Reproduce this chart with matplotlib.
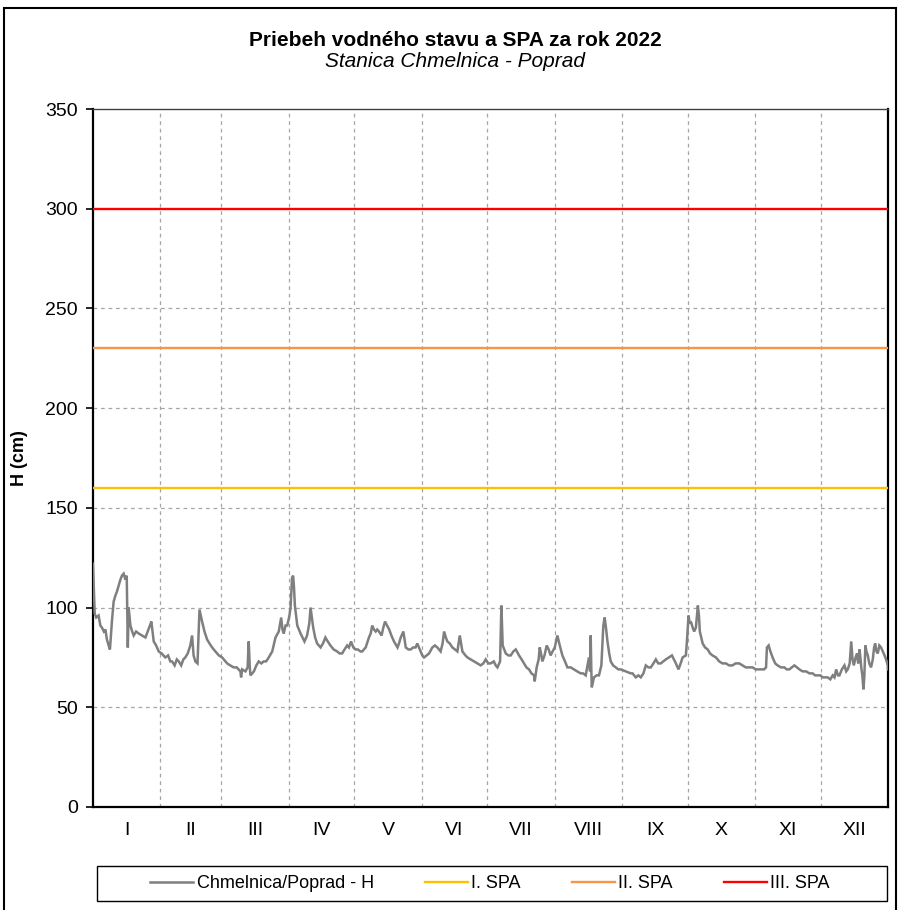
import numpy as np
import matplotlib
matplotlib.use("Agg")
import matplotlib.pyplot as plt
from matplotlib.patches import Rectangle

plt.rcParams['font.family'] = ['Liberation Sans', 'DejaVu Sans']

# day of year (0 = 1 Jan) and water level H in cm
days = [
    0.0, 0.4, 0.8, 1.5, 2.6, 3.4, 4.1, 5.0, 5.7, 6.4, 7.2, 7.8, 8.7, 9.5, 10.3, 11.0,
    11.8, 12.6, 13.3, 14.1, 14.9, 15.5, 16.0, 16.4, 17.2, 18.0, 18.7, 19.8, 21.0, 22.5,
    24.1, 25.5, 26.5, 26.8, 27.9, 29.0, 30.2, 31.5, 33.2, 34.5, 35.5, 36.3, 37.5, 38.5,
    39.4, 40.5, 41.5, 42.4, 43.5, 44.7, 45.5, 46.2, 47.0, 48.0, 48.9, 49.5, 50.1, 51.2,
    52.4, 53.5, 54.7, 56.2, 57.8, 59.3, 60.8,
    61.6, 63.0, 64.6, 66.0, 67.7, 68.0, 68.5, 70.0, 71.0, 71.5, 72.0, 72.3, 73.9, 75.0,
    76.1, 77.3, 78.4, 79.5, 80.7, 82.3, 83.8, 85.3, 86.4, 87.0, 87.6, 88.4, 89.2, 90.2,
    90.7, 91.4, 91.9, 92.3, 92.7, 93.8, 95.3, 96.2, 97.1, 98.3, 99.3, 99.9, 100.4, 101.1,
    102.0, 102.9, 104.5, 105.6, 106.7, 107.8, 109.0, 110.5, 112.1, 113.2, 114.4, 115.5,
    116.7, 117.5, 118.5, 119.5, 120.5, 121.6, 122.8,
    123.6, 125.2, 126.7, 127.5, 128.2, 129.0, 129.8, 130.5, 131.3, 132.5, 133.3, 134.1,
    135.0, 136.0, 137.0, 138.2, 139.8, 140.5, 141.3, 142.5, 143.6, 144.8, 145.9, 147.0,
    148.1, 148.9, 150.4, 151.2, 152.0, 153.2, 154.3, 155.8, 157.0, 158.1, 159.6, 160.5,
    161.2, 162.0, 162.7, 163.8, 165.0, 166.2, 167.3, 168.4, 169.0, 169.6, 171.0, 171.9,
    173.4, 175.0, 176.5, 178.0, 179.2, 180.3, 181.5, 182.6, 184.0, 184.9,
    185.7, 186.9, 187.5, 188.1, 189.5, 190.7, 191.8, 193.0, 194.1, 195.6, 196.8, 197.9,
    199.0, 200.2, 201.3, 202.5, 202.8, 203.7, 204.6, 205.1, 205.7, 206.3, 207.3, 208.3,
    209.2, 210.1, 211.0, 212.0, 213.2, 214.3, 215.5, 216.7, 217.8, 219.3, 220.8, 222.3,
    223.9, 225.0, 226.2, 227.7, 228.2, 228.5, 228.8, 229.0, 230.0, 231.2, 232.3, 233.4,
    234.3, 234.9, 235.5, 236.2, 237.0, 237.7, 238.8, 240.0, 241.2, 242.3, 244.6, 246.9,
    247.7, 249.2, 250.4, 251.5, 252.7, 253.8, 255.0, 256.1, 257.3, 258.4, 259.5, 260.7,
    261.8, 263.0, 264.4, 265.8, 266.7, 267.6, 268.8, 269.8, 270.7, 272.2, 272.8, 273.4,
    274.0, 274.5, 275.3, 276.0, 276.8, 277.7, 278.2, 278.6, 279.9, 281.0, 282.2, 283.3,
    284.4, 286.0, 287.5, 289.0, 290.6, 292.0, 293.6, 295.0, 296.7, 298.2, 299.7, 301.3,
    302.8, 304.3, 305.9, 307.0, 308.1, 309.0, 309.4,
    310.2, 311.0, 312.0, 313.2, 314.3, 315.8, 317.4, 318.5, 319.7, 320.8, 322.0, 323.2,
    324.3, 325.8, 327.4, 328.9, 330.4, 331.5, 332.7, 334.0, 335.0, 336.2, 337.3, 338.5,
    339.6, 340.4, 341.2, 342.0, 342.7, 343.8, 345.0, 345.8, 346.5, 347.4, 348.1, 348.7,
    349.3, 350.1, 350.8, 351.3, 351.9, 352.4, 352.7, 353.2, 353.7, 354.1, 354.6, 355.1,
    355.7, 356.4, 357.2, 358.0, 358.6, 359.1, 359.7, 360.3, 361.0, 361.8, 362.6, 363.4,
    364.1, 364.9, 365.0,
]
level = [
    122, 110, 97, 95, 96, 91, 90, 88, 89, 84, 81, 79, 93, 103, 106, 108,
    111, 114, 116, 117, 114, 116, 80, 100, 91, 88, 86, 88, 87, 86,
    85, 89, 92, 93, 83, 81, 78, 77, 75, 76, 73, 73, 71, 74,
    73, 71, 74, 75, 77, 81, 86, 76, 73, 72, 99, 96, 93, 88,
    84, 82, 80, 78, 76, 75, 73,
    72, 71, 70, 70, 68, 65, 69, 68, 70, 83, 70, 66, 68, 71,
    73, 72, 73, 73, 75, 78, 85, 88, 95, 89, 87, 91, 91, 96,
    100, 115, 116, 110, 101, 91, 87, 85, 83, 86, 92, 100, 96, 90,
    85, 82, 80, 82, 85, 83, 81, 79, 78, 77, 77, 79,
    81, 80, 83, 80, 79, 79, 78,
    78, 80, 85, 87, 91, 89, 88, 89, 88, 86, 90, 93,
    91, 89, 86, 83, 80, 82, 85, 88, 80, 79, 79, 80,
    80, 82, 78, 76, 75, 76, 77, 80, 81, 80, 78, 82,
    88, 85, 83, 82, 80, 79, 78, 86, 82, 78, 76, 75,
    74, 73, 72, 71, 72, 74, 72, 72, 73, 71,
    70, 73, 101, 81, 77, 76, 76, 78, 79, 76, 74, 72,
    70, 69, 67, 66, 63, 70, 74, 80, 77, 73, 76, 81,
    79, 76, 78, 80, 86, 81, 76, 73, 70, 70, 69, 68,
    67, 67, 66, 75, 68, 86, 68, 60, 65, 66, 66, 71,
    91, 95, 90, 83, 77, 73, 71, 70, 69, 69, 68, 67,
    67, 65, 66, 65, 67, 71, 70, 70, 72, 74, 72, 72,
    73, 74, 75, 76, 74, 72, 69, 72, 75, 76, 85, 96,
    92, 93, 90, 88, 90, 101, 96, 88, 82, 80, 79, 77,
    76, 75, 73, 72, 72, 71, 71, 72, 72, 71, 70, 70,
    70, 69, 69, 69, 69, 70, 80,
    81, 78, 75, 72, 71, 70, 70, 69, 69, 70, 71, 70,
    69, 68, 68, 67, 67, 66, 66, 66, 65, 65, 65, 64,
    66, 65, 69, 66, 66, 69, 71, 68, 69, 72, 83, 74,
    71, 75, 77, 72, 79, 74, 70, 66, 59, 65, 81, 78,
    76, 72, 70, 74, 80, 82, 78, 77, 81, 80, 78, 76,
    74, 71, 69,
]

spa_levels = [160, 230, 300]
spa_names = ['I. SPA', 'II. SPA', 'III. SPA']
spa_colors = ['#FFC000', '#F79646', '#FF0000']

month_starts = [0, 31, 59, 90, 120, 151, 181, 212, 243, 273, 304, 334, 365]
month_labels = ['I', 'II', 'III', 'IV', 'V', 'VI', 'VII', 'VIII', 'IX', 'X', 'XI', 'XII']

fig = plt.figure(figsize=(8.99, 9.10), dpi=100)
ax = fig.add_axes([0.1034, 0.1132, 0.8844, 0.767])

line_h, = ax.plot(days, level, color='#7f7f7f', lw=1.8, label='Chmelnica/Poprad - H',
                  zorder=3, solid_joinstyle='miter')
spa_handles = []
for lvl, name, col in zip(spa_levels, spa_names, spa_colors):
    h = ax.axhline(lvl, color=col, lw=1.7, label=name, zorder=4)
    spa_handles.append(h)

ax.set_xlim(0, 365)
ax.set_ylim(0, 350)
ax.set_yticks(np.arange(0, 351, 50))
ax.set_xticks(month_starts, minor=False)
ax.set_xticklabels([])
ax.set_xticks([(a + b) / 2 for a, b in zip(month_starts[:-1], month_starts[1:])], minor=True)
ax.set_xticklabels(month_labels, minor=True)
ax.tick_params(axis='x', which='major', length=0)
ax.tick_params(axis='x', which='minor', length=0, pad=11, labelsize=14)
ax.tick_params(axis='y', length=5, width=1.2, direction='out', labelsize=14, pad=6)

for d in month_starts[1:-1]:
    ax.axvline(d, color='#a6a6a6', lw=0.9, ls=(0, (3, 3)), zorder=1)
for v in [50, 100, 150, 200, 250]:
    ax.axhline(v, color='#a6a6a6', lw=0.9, ls=(0, (3, 3)), zorder=1)

for side in ['left', 'bottom', 'right']:
    ax.spines[side].set_linewidth(1.6)
    ax.spines[side].set_color('black')
ax.spines['top'].set_linewidth(1.0)
ax.spines['top'].set_color('#404040')

ax.set_ylabel('H (cm)', fontsize=13, fontweight='bold')
ax.yaxis.set_label_coords(-0.082, 0.5)

fig.text(0.506, 0.956, 'Priebeh vodného stavu a SPA za rok 2022', ha='center', va='center',
         fontsize=15, fontweight='bold')
fig.text(0.506, 0.932, 'Stanica Chmelnica - Poprad', ha='center', va='center',
         fontsize=15, style='italic')

# legend box spanning the plot width, entries centred inside
fig.patches.append(Rectangle((0.108, 0.0099), 0.879, 0.0385, transform=fig.transFigure,
                             fill=False, ec='black', lw=1.0))
leg = fig.legend(handles=[line_h] + spa_handles, loc='center', ncol=4,
                 bbox_to_anchor=(0.545, 0.0292), frameon=False, fontsize=13,
                 handlelength=2.4, handletextpad=0.2, columnspacing=2.8,
                 borderaxespad=0)

fig.patches.append(Rectangle((0.004, -0.01), 0.993, 1.001, transform=fig.transFigure,
                             fill=False, ec='black', lw=1.5))

fig.savefig('out.png', dpi=100)
